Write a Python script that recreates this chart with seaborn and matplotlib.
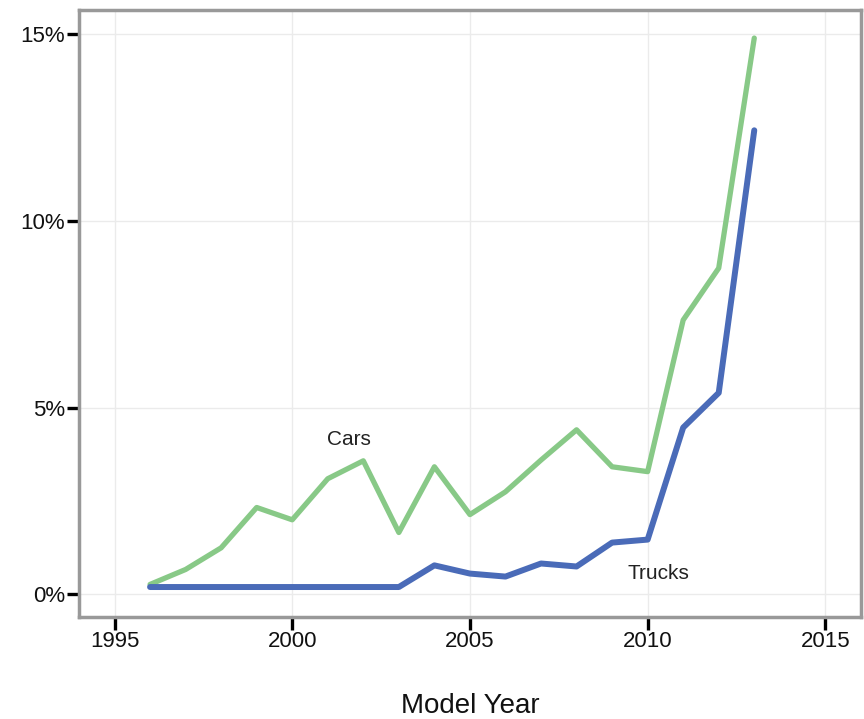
import numpy as np
import pandas as pd
import matplotlib
matplotlib.use("Agg")
import matplotlib.pyplot as plt
import matplotlib.ticker as mticker
import seaborn as sns

years = list(range(1996, 2014))
cars_pct = [0.27, 0.67, 1.25, 2.33, 2.0, 3.1, 3.58, 1.66, 3.42, 2.14,
            2.75, 3.6, 4.41, 3.42, 3.29, 7.35, 8.74, 14.9]
trucks_pct = [0.2, 0.2, 0.2, 0.2, 0.2, 0.2, 0.2, 0.2, 0.78, 0.56,
              0.48, 0.83, 0.75, 1.39, 1.47, 4.47, 5.4, 12.43]

df = pd.DataFrame({"year": years * 2,
                   "share": cars_pct + trucks_pct,
                   "type": ["Cars"] * len(years) + ["Trucks"] * len(years)})

sns.set_theme(style="whitegrid")
plt.rcParams['font.family'] = ['Liberation Sans', 'DejaVu Sans']

fig = plt.figure(figsize=(8.64, 7.19), dpi=100)
ax = fig.add_axes([0.0914, 0.142, 0.905, 0.844])

palette = {"Cars": "#88c987", "Trucks": "#4a6bb8"}
sns.lineplot(data=df, x="year", y="share", hue="type", palette=palette,
             linewidth=4.3, legend=False, ax=ax)
# green line is a bit thinner
ax.lines[0].set_linewidth(3.8)

ax.text(2001.6, 4.15, "Cars", fontsize=15, ha="center", va="center", color="#222222")
ax.text(2010.3, 0.55, "Trucks", fontsize=15, ha="center", va="center", color="#222222")

ax.set_xlim(1994, 2016)
ax.set_ylim(-0.6, 15.65)
ax.set_xticks([1995, 2000, 2005, 2010, 2015])
ax.set_yticks([0, 5, 10, 15])
ax.yaxis.set_major_formatter(mticker.FuncFormatter(lambda v, p: f"{v:.0f}%"))

ax.grid(True, color="#ebebeb", linewidth=1)
for s in ax.spines.values():
    s.set_color("#999999")
    s.set_linewidth(2.5)
ax.tick_params(axis="both", direction="out", length=9, width=2.4, color="black",
               labelsize=16, pad=1, labelcolor="#111111")
ax.tick_params(bottom=True, left=True)

ax.set_xlabel("Model Year", fontsize=20, labelpad=30, color="#111111")
ax.set_ylabel("")

fig.savefig("out.png", dpi=100)
